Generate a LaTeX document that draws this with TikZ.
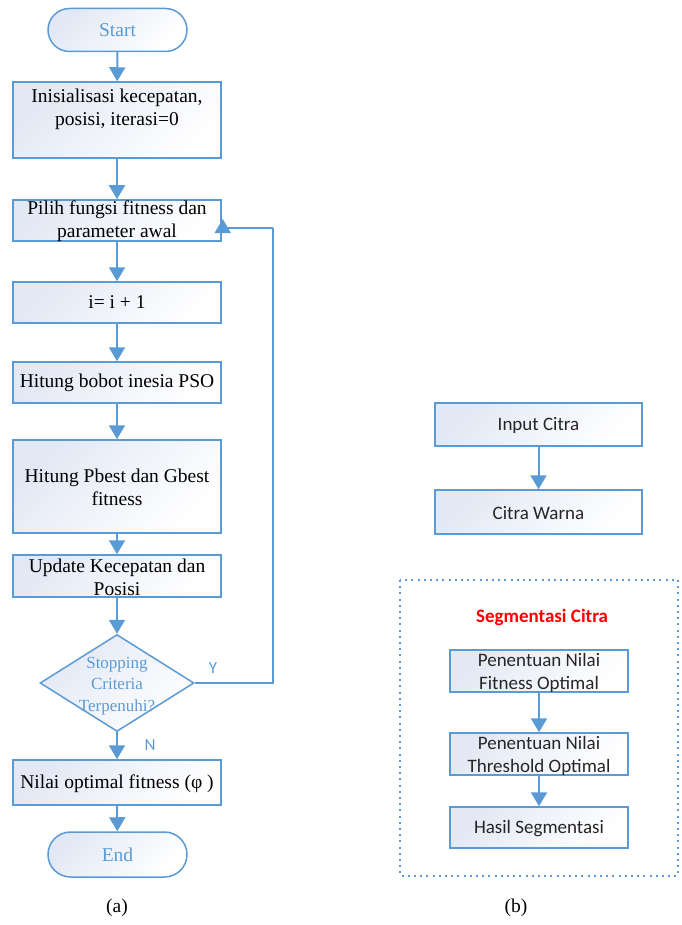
\documentclass[tikz,border=0pt]{standalone}
\usepackage{fontspec}
\setmainfont{Liberation Serif}
\newfontfamily\calib{Carlito}
\usetikzlibrary{arrows.meta,shapes.geometric}
\definecolor{bblue}{HTML}{5B9BD5}
\definecolor{bfill}{HTML}{E2E8F4}
\definecolor{sred}{HTML}{FF0000}
\tikzset{
  gfill/.style={top color=bfill, bottom color=white, shading angle=45},
  box/.style={draw=bblue, line width=1.5pt, gfill, inner sep=0pt},
  lbox/.style={box, minimum width=208pt},
  rbox/.style={box, minimum width=207pt, minimum height=43pt},
  ibox/.style={box, minimum width=178pt, minimum height=42pt},
  term/.style={box, minimum width=139pt, minimum height=43pt, rounded corners=21.5pt},
  serif/.style={font=\fontsize{19.5}{23}\selectfont, align=center, text=black, inner sep=0pt},
  sans/.style={font=\calib\fontsize{19}{22.5}\selectfont, align=center, text=black!85, inner sep=0pt},
  conn/.style={draw=bblue, line width=2pt, -{Triangle[width=16pt,length=14pt]}},
}
\begin{document}
\begin{tikzpicture}[x=1pt,y=-1pt]
\useasboundingbox (0,0) rectangle (681,925);
% left flowchart
\node[term] (start) at (117.5,30) {};
\node[serif, text=bblue] (startt) at (117.5,30) {Start};
\node[lbox, minimum height=76pt] (init) at (117,120) {};
\node[serif] (initt) at (117,109.5) {Inisialisasi kecepatan,\\posisi, iterasi=0};
\node[lbox, minimum height=41pt] (pilih) at (117,220.5) {};
\node[serif] (pilihtt) at (117,221.5) {Pilih fungsi fitness dan\\parameter awal};
\node[lbox, minimum height=41pt] (inc) at (117,302.5) {};
\node[serif] (inct) at (117,302.5) {i= i + 1};
\node[lbox, minimum height=41pt] (bobot) at (117,382.5) {};
\node[serif] (bobott) at (117,382.5) {Hitung bobot inesia PSO};
\node[lbox, minimum height=93pt] (best) at (117,486.5) {};
\node[serif] (bestt) at (117,487) {Hitung Pbest dan Gbest\\fitness};
\node[lbox, minimum height=42pt] (upd) at (117,576) {};
\node[serif] (updt) at (117,577) {Update Kecepatan dan\\Posisi};
\node[diamond, draw=bblue, line width=1.5pt, gfill, inner sep=0pt,
      minimum width=154pt, minimum height=97pt] (dia) at (117,683) {};
\node[serif, font=\fontsize{17}{21.5}\selectfont, text=bblue] (diat) at (117,686) {Stopping\\Criteria\\Terpenuhi?};
\node[lbox, minimum height=45pt] (nilai) at (117,782.5) {};
\node[serif] (nilait) at (117,783.5) {Nilai optimal fitness (φ )};
\node[term, minimum height=45pt, rounded corners=22.5pt] (end) at (117.5,854.5) {};
\node[serif, text=bblue] (endt) at (117.5,854.5) {End};
\node[serif] (capa) at (117,908) {(a)};
\node[sans, text=bblue, font=\calib\fontsize{17}{20}\selectfont] (ylab) at (213,668) {Y};
\node[sans, text=bblue, font=\calib\fontsize{17}{20}\selectfont] (nlab) at (150,745) {N};

\draw[conn] (start) -- (init);
\draw[conn] (init) -- (pilih);
\draw[conn] (pilih) -- (inc);
\draw[conn] (inc) -- (bobot);
\draw[conn] (bobot) -- (best);
\draw[conn] (best) -- (upd);
\draw[conn] (upd) -- (dia);
\draw[conn] (dia) -- (nilai);
\draw[conn] (nilai) -- (end);
\coordinate (fb) at (273,228);
\draw[conn, -] (dia.east) -| (fb);
\draw[conn] (fb) -| ([xshift=1pt,yshift=1.5pt]pilih.east);

% right flowchart
\node[rbox] (input) at (538.5,424.5) {};
\node[sans] (inputt) at (538.5,425) {Input Citra};
\node[rbox, minimum height=44pt] (warna) at (538.5,512) {};
\node[sans] (warnat) at (538.5,513) {Citra Warna};
\draw[conn] (input) -- (warna);

\draw[draw=bblue, line width=2pt, dash pattern=on 2pt off 4.2pt] (400,580) rectangle (678,876);
\node[sans, font=\calib\bfseries\fontsize{19}{22}\selectfont, text=sred] (seg) at (542,617) {Segmentasi Citra};
\node[ibox] (fit) at (539,671) {};
\node[sans] (fitt) at (539,673) {Penentuan Nilai\\Fitness Optimal};
\node[ibox] (thr) at (539,754) {};
\node[sans] (thrt) at (539,756) {Penentuan Nilai\\Threshold Optimal};
\node[ibox, minimum height=41pt] (hasil) at (539,827.5) {};
\node[sans] (hasilt) at (539,829) {Hasil Segmentasi};
\draw[conn] (fit) -- (thr);
\draw[conn] (thr) -- (hasil);
\node[serif] (capb) at (516,908) {(b)};
\end{tikzpicture}
\end{document}
